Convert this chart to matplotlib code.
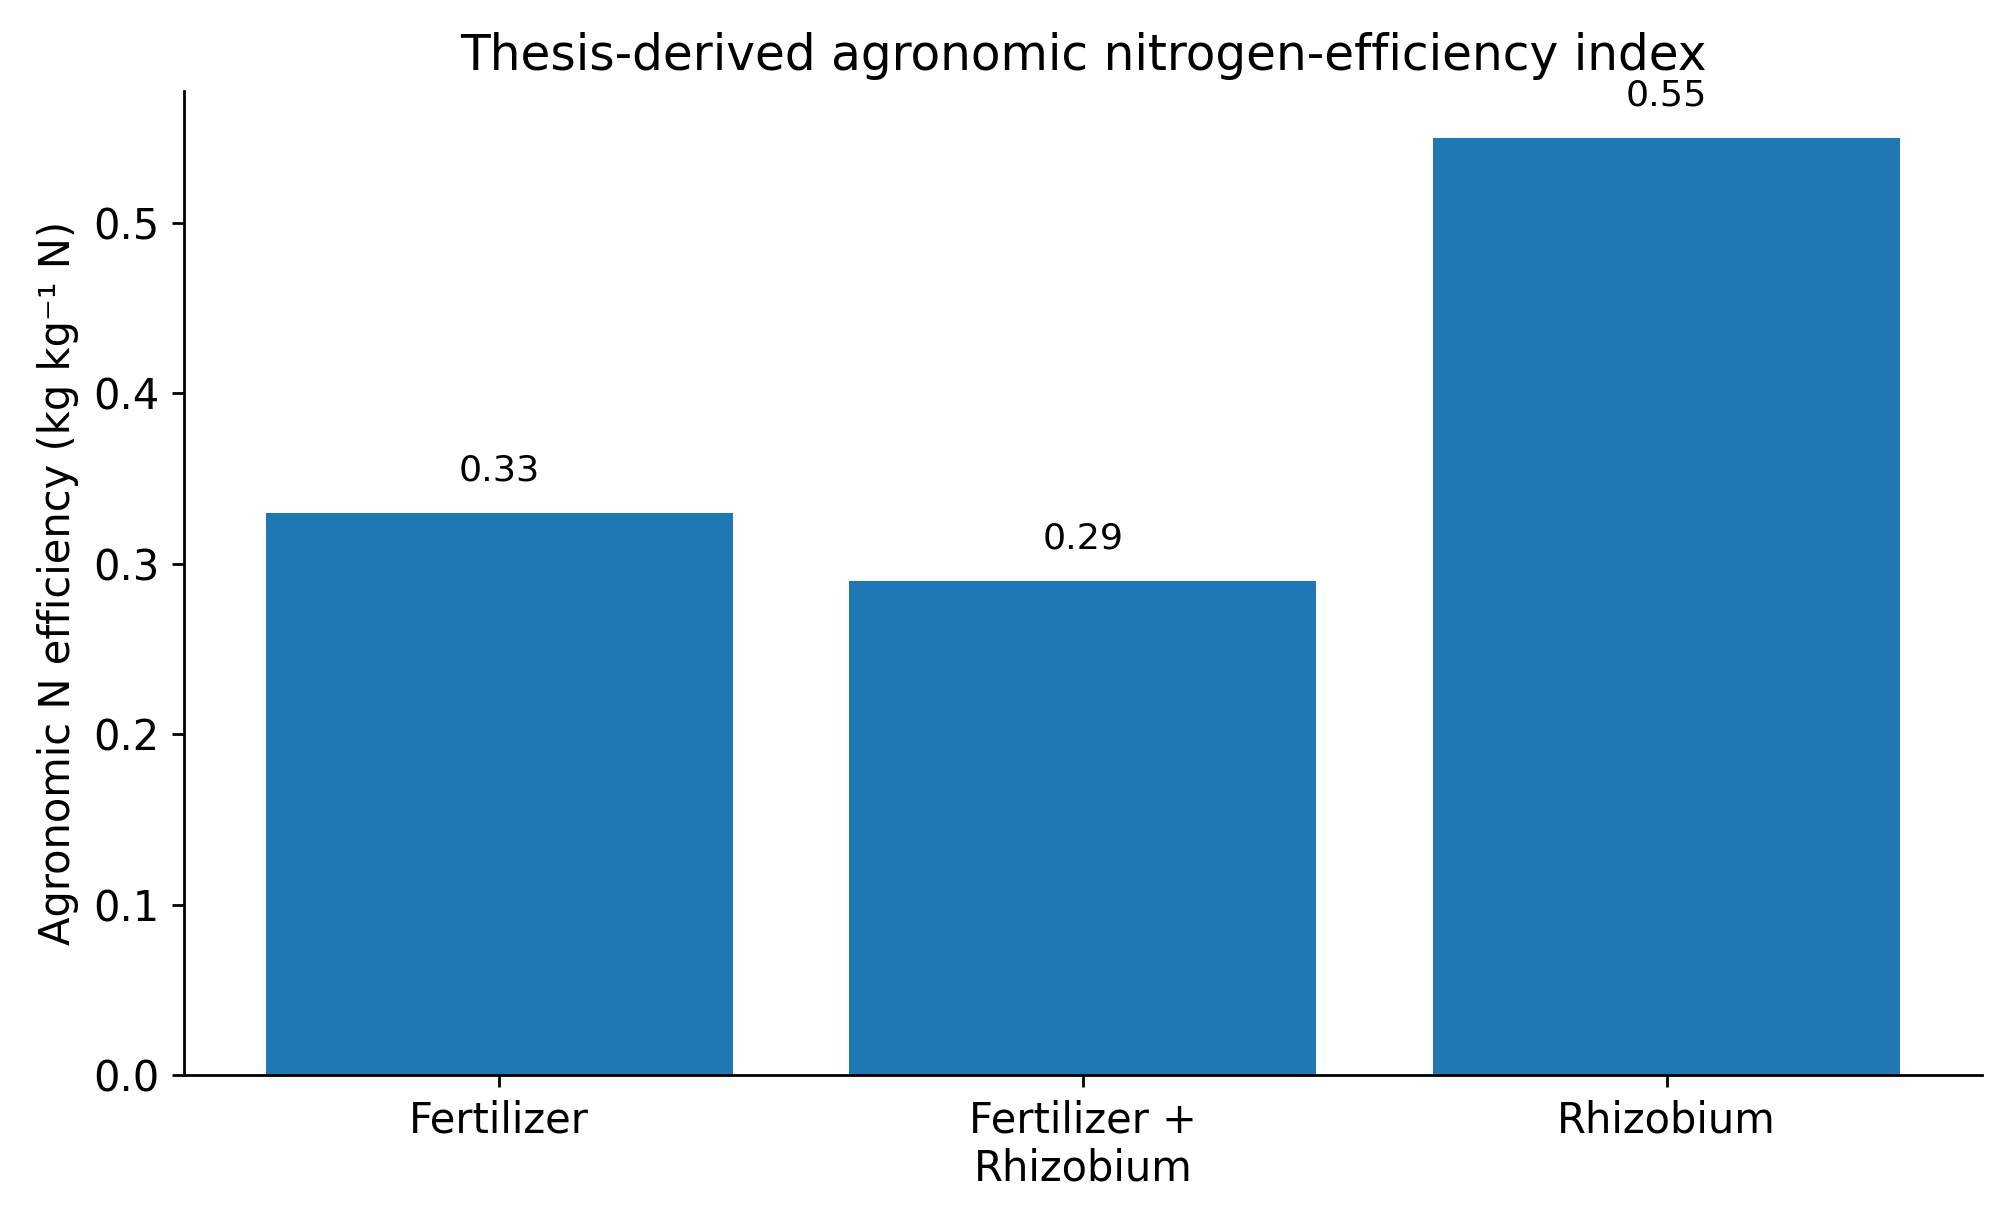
import matplotlib
matplotlib.use("Agg")
import matplotlib.pyplot as plt

treatments = ["Fertilizer", "Fertilizer +\nRhizobium", "Rhizobium"]
efficiency = [0.33, 0.29, 0.55]

fig, ax = plt.subplots(figsize=(8.04, 4.9), dpi=250)
bars = ax.bar(treatments, efficiency, color="#1f77b4", width=0.8)

for i, v in enumerate(efficiency):
    ax.text(i, v + 0.015, f"{v:.2f}", ha="center", va="bottom", fontsize=10.5)

ax.set_ylim(0, max(efficiency) * 1.05)
ax.set_ylabel("Agronomic N efficiency (kg kg\u207b\u00b9 N)", fontsize=12)
ax.set_title("Thesis-derived agronomic nitrogen-efficiency index", fontsize=14)
ax.tick_params(labelsize=12)
ax.spines["top"].set_visible(False)
ax.spines["right"].set_visible(False)

fig.subplots_adjust(left=0.0915, right=0.986, top=0.9257, bottom=0.1224)
fig.savefig("out.png", dpi=250)
